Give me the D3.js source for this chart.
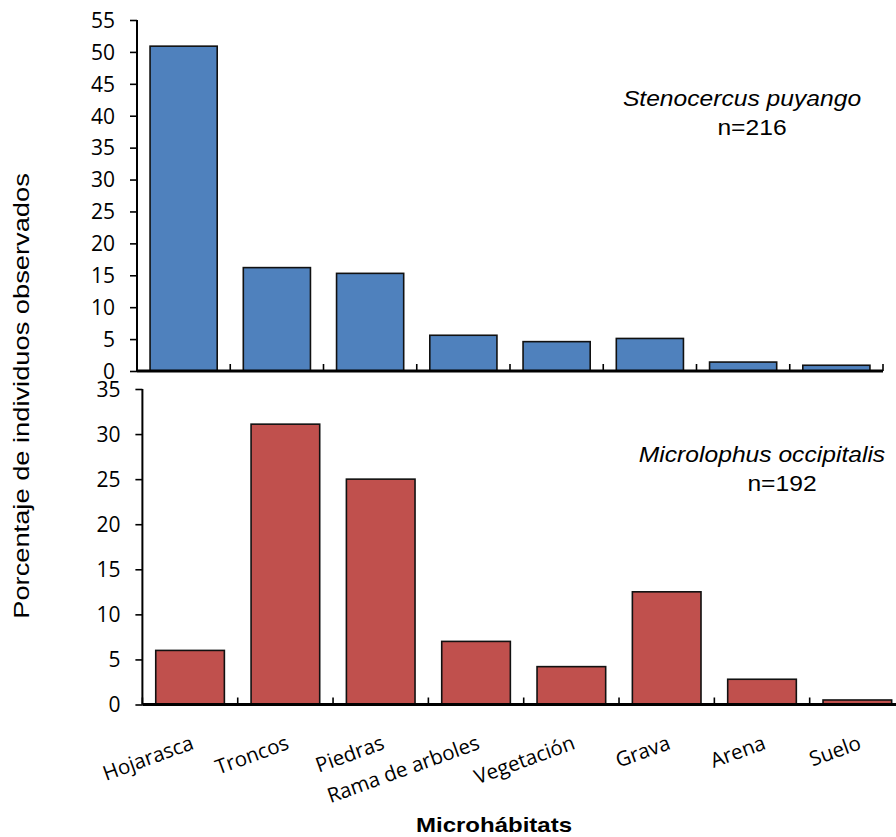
<!DOCTYPE html>
<html>
<head>
<meta charset="utf-8">
<script src="https://cdn.jsdelivr.net/npm/d3@7"></script>
<style>
  html, body { margin: 0; padding: 0; background: #fff; }
  svg { display: block; }
</style>
</head>
<body>
<svg id="chart" width="896" height="837"></svg>
<script>
// Microhabitat categories shared by both panels
const categories = ["Hojarasca", "Troncos", "Piedras", "Rama de arboles", "Vegetación", "Grava", "Arena", "Suelo"];

// Percentage of observed individuals per microhabitat
const stenocercusValues = [50.9, 16.2, 15.3, 5.6, 4.6, 5.1, 1.4, 0.9];
const microlophusValues = [6.0, 31.1, 25.0, 7.0, 4.2, 12.5, 2.8, 0.5];

// Y tick values for each panel
const topTicks = [0, 5, 10, 15, 20, 25, 30, 35, 40, 45, 50, 55];
const bottomTicks = [0, 5, 10, 15, 20, 25, 30, 35];

const svg = d3.select("#chart");
const tickFont = "'Open Sans', 'Lato', sans-serif";
const textFont = "'Liberation Sans', Arial, sans-serif";

function panel(opts) {
  const g = svg.append("g");
  const x = d3.scaleBand().domain(categories)
    .range([opts.x0, opts.x1]).paddingInner(0.28).paddingOuter(0.14);
  const y = d3.scaleLinear().domain([0, opts.yMax]).range([opts.y0, opts.yTop]);

  // bars
  g.selectAll("rect.bar").data(opts.values).join("rect")
    .attr("class", "bar")
    .attr("x", (d, i) => x(categories[i]))
    .attr("width", x.bandwidth())
    .attr("y", d => y(d))
    .attr("height", d => y(0) - y(d))
    .attr("fill", opts.color)
    .attr("stroke", "#111")
    .attr("stroke-width", 1.6);

  // y axis
  const yAxis = d3.axisLeft(y).tickValues(opts.ticks).tickSize(7).tickPadding(15)
    .tickFormat(d3.format("d"));
  const ya = g.append("g").attr("transform", `translate(${opts.x0},0)`).call(yAxis);
  ya.select(".domain").attr("stroke", "#000").attr("stroke-width", 2)
    .attr("d", `M0,${opts.y0}V${opts.yTop}`);
  ya.selectAll(".tick line").attr("stroke", "#000").attr("stroke-width", 1.6);
  ya.selectAll(".tick text").attr("font-family", tickFont).attr("font-size", 21)
    .attr("fill", "#000").attr("dy", "0.35em");

  // x axis: baseline with upward ticks at category boundaries
  const step = x.step();
  const bounds = d3.range(categories.length + 1).map(i => opts.x0 + i * step);
  const xa = g.append("g");
  xa.append("line").attr("x1", opts.x0).attr("x2", opts.x1)
    .attr("y1", opts.y0).attr("y2", opts.y0)
    .attr("stroke", "#000").attr("stroke-width", 3);
  xa.selectAll("line.xt").data(bounds).join("line").attr("class", "xt")
    .attr("x1", d => d).attr("x2", d => d)
    .attr("y1", opts.y0).attr("y2", opts.y0 - 7)
    .attr("stroke", "#000").attr("stroke-width", 1.6);

  // species label
  const lab = g.append("g").attr("font-family", textFont).attr("fill", "#000");
  lab.append("text")
    .attr("transform", `translate(${opts.lx},${opts.ly}) scale(1.12,1)`)
    .attr("text-anchor", "middle").attr("font-size", 22).attr("font-style", "italic")
    .text(opts.species);
  lab.append("text")
    .attr("transform", `translate(${opts.nx},${opts.ly + 29}) scale(1.12,1)`)
    .attr("text-anchor", "middle").attr("font-size", 22)
    .text(opts.n);

  return x;
}

panel({
  values: stenocercusValues, color: "#4F81BD", ticks: topTicks, yMax: 55,
  x0: 137, x1: 883, y0: 371, yTop: 20,
  species: "Stenocercus puyango", n: "n=216", lx: 742, nx: 752, ly: 106
});

const xb = panel({
  values: microlophusValues, color: "#C0504D", ticks: bottomTicks, yMax: 35,
  x0: 142.4, x1: 905, y0: 704.5, yTop: 389,
  species: "Microlophus occipitalis", n: "n=192", lx: 762, nx: 782, ly: 462
});

// rotated category labels under the lower panel
svg.append("g").selectAll("text").data(categories).join("text")
  .attr("transform", d => `translate(${xb(d) + xb.bandwidth() / 2},${735}) rotate(-20)`)
  .attr("text-anchor", "end")
  .attr("font-family", tickFont).attr("font-size", 20.5).attr("fill", "#000")
  .attr("dy", "0.7em")
  .text(d => d);

// axis titles
svg.append("text")
  .attr("transform", "translate(494,832) scale(1.2,1)")
  .attr("text-anchor", "middle").attr("font-family", textFont)
  .attr("font-weight", "bold").attr("font-size", 20).attr("fill", "#000")
  .text("Microhábitats");

svg.append("text")
  .attr("transform", "translate(29,396) rotate(-90) scale(1.24,1)")
  .attr("text-anchor", "middle").attr("font-family", textFont)
  .attr("font-size", 22).attr("fill", "#000")
  .text("Porcentaje de individuos observados");
</script>
</body>
</html>
